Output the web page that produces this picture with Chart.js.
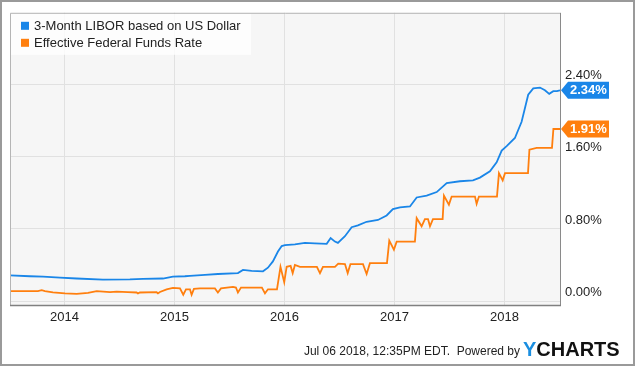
<!DOCTYPE html>
<html><head><meta charset="utf-8">
<script src="https://cdn.jsdelivr.net/npm/chart.js@4/dist/chart.umd.min.js"></script>
<style>html,body{margin:0;padding:0;background:#fff;}canvas{display:block;}</style>
</head><body>
<canvas id="c" width="635" height="366"></canvas>
<script>
const seriesNames = ["3-Month LIBOR based on US Dollar", "Effective Federal Funds Rate"];
const seriesColors = ["#1a86e8", "#ff7f0e"];

// decimal-year positions and values (%)
const liborDates = [2013.505,2013.686,2013.805,2013.959,2014.111,2014.35,2014.595,2014.714,2014.895,2014.986,
  2015.095,2015.141,2015.277,2015.395,2015.577,2015.623,2015.702,2015.805,2015.85,2015.895,2015.941,2015.975,
  2016.005,2016.095,2016.186,2016.277,2016.384,2016.42,2016.459,2016.486,2016.55,2016.611,2016.668,2016.747,
  2016.85,2016.929,2016.986,2017.05,2017.141,2017.202,2017.293,2017.384,2017.475,2017.595,2017.714,2017.777,
  2017.868,2017.929,2017.975,2018.02,2018.095,2018.156,2018.186,2018.216,2018.262,2018.323,2018.368,2018.407,
  2018.444,2018.477,2018.505];
const liborValues = [0.285,0.275,0.27,0.26,0.25,0.238,0.24,0.245,0.25,0.27,
  0.275,0.28,0.29,0.30,0.31,0.345,0.335,0.33,0.37,0.44,0.55,0.61,
  0.62,0.63,0.645,0.64,0.635,0.70,0.66,0.645,0.72,0.82,0.84,0.88,
  0.90,0.95,1.02,1.04,1.05,1.15,1.17,1.21,1.31,1.33,1.34,1.37,
  1.44,1.54,1.67,1.72,1.81,1.99,2.14,2.29,2.36,2.37,2.34,2.30,
  2.33,2.33,2.34];

const fedDates = [2013.505,2013.759,2013.793,2013.823,2013.895,2014.005,2014.111,2014.214,2014.293,2014.414,
  2014.475,2014.577,2014.656,2014.668,2014.686,2014.838,2014.85,2014.868,2014.929,2014.986,
  2015.05,2015.08,2015.105,2015.141,2015.156,2015.177,2015.232,2015.368,2015.395,2015.423,
  2015.532,2015.559,2015.577,2015.605,2015.732,2015.795,2015.823,2015.85,2015.932,2015.964,
  2015.998,2016.02,2016.056,2016.075,2016.095,2016.141,2016.295,2016.323,2016.35,2016.459,
  2016.489,2016.55,2016.575,2016.6,2016.714,2016.747,2016.777,2016.932,2016.953,2016.995,
  2017.02,2017.186,2017.202,2017.247,2017.277,2017.305,2017.323,2017.35,2017.438,2017.45,
  2017.495,2017.52,2017.732,2017.747,2017.768,2017.932,2017.95,2017.984,2018.005,2018.214,
  2018.227,2018.293,2018.432,2018.445,2018.505];
const fedValues = [0.11,0.11,0.12,0.11,0.095,0.085,0.08,0.09,0.11,0.10,
  0.105,0.10,0.095,0.085,0.095,0.098,0.085,0.10,0.13,0.146,
  0.14,0.07,0.13,0.13,0.07,0.135,0.14,0.14,0.095,0.14,
  0.157,0.15,0.095,0.15,0.15,0.15,0.085,0.13,0.13,0.38,
  0.21,0.38,0.39,0.31,0.40,0.38,0.38,0.31,0.38,0.38,
  0.415,0.41,0.31,0.41,0.41,0.30,0.42,0.42,0.67,0.57,
  0.66,0.66,0.92,0.83,0.91,0.91,0.83,0.91,0.91,1.17,
  1.07,1.16,1.16,1.08,1.16,1.16,1.42,1.34,1.42,1.42,
  1.68,1.70,1.70,1.91,1.91];

const xTickYears = [2014, 2015, 2016, 2017, 2018];
const yTickValues = [0, 0.8, 1.6, 2.4];
const footerText = "Jul 06 2018, 12:35PM EDT.  Powered by";
const brandFirst = "Y", brandRest = "CHARTS";

const FONT = '"Liberation Sans", Arial, Helvetica, sans-serif';

function toPoints(xs, ys){ return xs.map((x,i)=>({x:x, y:ys[i]})); }

const decor = {
  id: 'decor',
  beforeDraw(chart){
    const {ctx, chartArea:a} = chart;
    ctx.save();
    ctx.fillStyle = '#fff';
    ctx.fillRect(0, 0, chart.width, chart.height);
    ctx.fillStyle = '#f6f6f6';
    ctx.fillRect(a.left, a.top, a.right - a.left, a.bottom - a.top);
    ctx.restore();
  },
  afterDatasetsDraw(chart){
    const {ctx, chartArea:a} = chart;
    ctx.save();
    // legend
    ctx.fillStyle = 'rgba(255,255,255,0.8)';
    ctx.fillRect(a.left + 1, a.top + 1, 240, 41);
    chart.data.datasets.forEach((ds, i) => {
      const y = a.top + 13 + i * 17;
      ctx.fillStyle = ds.borderColor;
      ctx.fillRect(a.left + 11, y - 4, 8, 8);
      ctx.fillStyle = '#222';
      ctx.font = '13px ' + FONT;
      ctx.textBaseline = 'middle';
      ctx.textAlign = 'left';
      ctx.fillText(ds.label, a.left + 24, y + 0.5);
    });
    ctx.restore();
  },
  afterDraw(chart){
    const {ctx, chartArea:a} = chart;
    const ys = chart.scales.y;
    ctx.save();
    // plot frame
    ctx.lineWidth = 1;
    ctx.strokeStyle = '#b5b5b5';
    ctx.beginPath();
    ctx.moveTo(a.left + 0.5, a.bottom); ctx.lineTo(a.left + 0.5, a.top + 0.5); ctx.lineTo(a.right, a.top + 0.5);
    ctx.stroke();
    ctx.strokeStyle = '#8a8a8a';
    ctx.beginPath();
    ctx.moveTo(a.right + 0.5, a.top); ctx.lineTo(a.right + 0.5, a.bottom + 1);
    ctx.stroke();
    ctx.lineWidth = 1.5;
    ctx.strokeStyle = '#808080';
    ctx.beginPath();
    ctx.moveTo(a.left, a.bottom + 0.5); ctx.lineTo(a.right + 1, a.bottom + 0.5);
    ctx.stroke();

    // last value tags
    chart.data.datasets.forEach(ds => {
      const last = ds.data[ds.data.length - 1].y;
      const py = ys.getPixelForValue(last);
      const x0 = a.right + 1, h = 8.5;
      ctx.fillStyle = ds.borderColor;
      ctx.beginPath();
      ctx.moveTo(x0, py);
      ctx.lineTo(x0 + 7, py - h);
      ctx.lineTo(x0 + 48, py - h);
      ctx.lineTo(x0 + 48, py + h);
      ctx.lineTo(x0 + 7, py + h);
      ctx.closePath();
      ctx.fill();
      ctx.fillStyle = '#fff';
      ctx.font = 'bold 13px ' + FONT;
      ctx.textAlign = 'left';
      ctx.textBaseline = 'middle';
      ctx.fillText(last.toFixed(2) + '%', x0 + 9, py + 0.5);
    });

    // footer
    ctx.fillStyle = '#222';
    ctx.font = '12px ' + FONT;
    ctx.textAlign = 'right';
    ctx.textBaseline = 'middle';
    ctx.fillText(footerText, 520, 352);
    ctx.font = 'bold 20px ' + FONT;
    ctx.textAlign = 'left';
    ctx.fillStyle = '#1a8ee0';
    ctx.fillText(brandFirst, 523, 350.5);
    const w = ctx.measureText(brandFirst).width;
    ctx.fillStyle = '#111';
    ctx.fillText(brandRest, 523 + w, 350.5);

    // outer border
    ctx.strokeStyle = '#9a9a9a';
    ctx.lineWidth = 2;
    ctx.strokeRect(1, 1, chart.width - 2, chart.height - 2);
    ctx.restore();
  }
};

new Chart(document.getElementById('c'), {
  type: 'line',
  data: {
    datasets: [
      { label: seriesNames[0], data: toPoints(liborDates, liborValues), borderColor: seriesColors[0], backgroundColor: seriesColors[0], borderWidth: 1.8, pointRadius: 0, tension: 0, fill: false },
      { label: seriesNames[1], data: toPoints(fedDates, fedValues), borderColor: seriesColors[1], backgroundColor: seriesColors[1], borderWidth: 1.8, pointRadius: 0, tension: 0, fill: false }
    ]
  },
  options: {
    responsive: false,
    animation: false,
    devicePixelRatio: 1,
    layout: { padding: { left: 10, top: 10, right: 0, bottom: 0 } },
    plugins: { legend: { display: false }, tooltip: { enabled: false } },
    scales: {
      x: {
        type: 'linear', min: 2013.505, max: 2018.505,
        afterBuildTicks: s => { s.ticks = xTickYears.map(v => ({ value: v })); },
        afterFit: s => { s.height = 61; },
        grid: { color: '#e1e1e1', drawTicks: false, lineWidth: 1 },
        border: { display: false },
        ticks: { padding: 5, color: '#222', font: { family: FONT, size: 13 }, maxRotation: 0, autoSkip: false, callback: v => String(v) }
      },
      y: {
        position: 'right', min: -0.044, max: 3.2,
        afterBuildTicks: s => { s.ticks = yTickValues.map(v => ({ value: v })); },
        afterFit: s => { s.width = 75; },
        grid: { color: '#e1e1e1', drawTicks: false, lineWidth: 1 },
        border: { display: false },
        ticks: { padding: 5, labelOffset: -9, color: '#222', font: { family: FONT, size: 13 }, callback: v => Number(v).toFixed(2) + '%' }
      }
    }
  },
  plugins: [decor]
});
</script>
</body></html>
